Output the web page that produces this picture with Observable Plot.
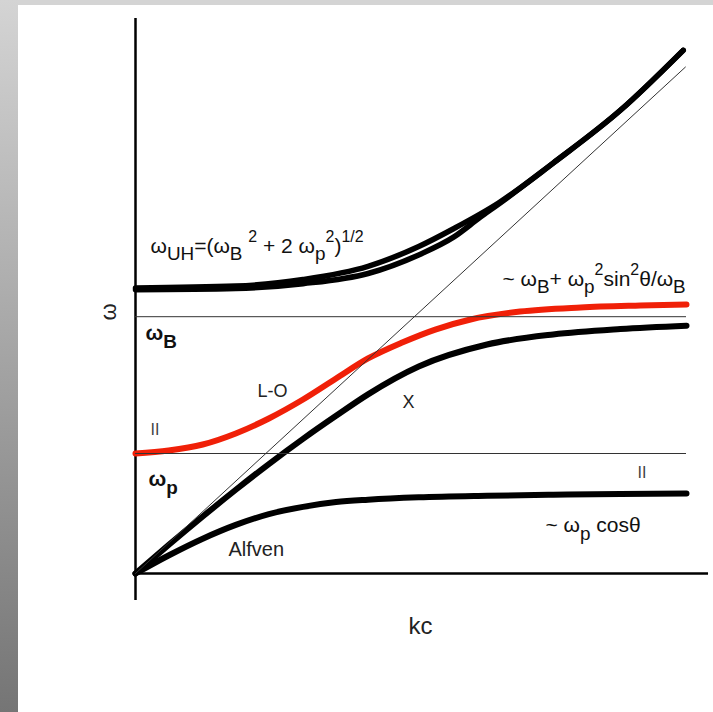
<!DOCTYPE html>
<html><head><meta charset="utf-8">
<script src="https://cdn.jsdelivr.net/npm/d3@7"></script>
<script src="https://cdn.jsdelivr.net/npm/@observablehq/plot@0.6"></script>
<style>
html,body{margin:0;padding:0;background:#fff;overflow:hidden;}
#wrap{position:relative;width:713px;height:712px;}
#chart{position:absolute;left:0;top:0;}
#topbar{position:absolute;left:0;top:0;width:713px;height:5px;background:#d4d4d4;}
#leftbar{position:absolute;left:0;top:0;width:18px;height:712px;background:linear-gradient(#d4d4d4,#757575);}
</style></head><body>
<div id="wrap"><div id="chart"></div><div id="topbar"></div><div id="leftbar"></div></div>
<script>
// ---- data (kc, ω in units of ωp) ----
const diagK = [0, 4.99];
const diagW = [0, 4.22];

const uhUpperK = [0, 0.91, 1.52, 2.11, 2.57, 2.89, 3.29, 3.79, 4.40, 4.97];
const uhUpperW = [2.38, 2.395, 2.45, 2.56, 2.725, 2.875, 3.085, 3.42, 3.86, 4.36];
const uhLowerK = [0, 0.91, 1.52, 2.11, 2.57, 2.89, 3.13, 3.29, 3.79, 4.40, 4.97];
const uhLowerW = [2.365, 2.375, 2.415, 2.50, 2.655, 2.805, 2.97, 3.075, 3.42, 3.86, 4.36];

const loK = [0, 0.30, 0.61, 0.91, 1.21, 1.52, 1.82, 2.11, 2.42, 2.72, 3.04, 3.49, 4.04, 4.58, 5.0];
const loW = [1.0, 1.025, 1.075, 1.167, 1.292, 1.45, 1.625, 1.792, 1.925, 2.033, 2.117, 2.183, 2.217, 2.233, 2.242];

const xK = [0, 0.30, 0.61, 0.91, 1.21, 1.52, 1.82, 2.11, 2.57, 3.19, 3.79, 4.40, 5.0];
const xW = [0, 0.237, 0.475, 0.698, 0.912, 1.122, 1.314, 1.493, 1.725, 1.908, 1.992, 2.037, 2.065];

const alfK = [0, 0.30, 0.61, 0.91, 1.21, 1.52, 1.82, 2.11, 2.57, 3.19, 3.79, 4.40, 5.0];
const alfW = [0, 0.15, 0.29, 0.405, 0.495, 0.555, 0.595, 0.615, 0.635, 0.648, 0.656, 0.662, 0.667];

const omegaB = 2.14;
const omegaP = 1.0;
const lineEnd = 5.0;

const labelText = ["ω_{UH}=(ω_{B} ^{2} + 2 ω_{p}^{2})^{1/2}", "~ ω_{B}+ ω_{p}^{2}sin^{2}θ/ω_{B}", "~ ω_{p} cosθ"];
const labelK = [0.136, 3.33, 3.72];
const labelW = [2.675, 2.40, 0.342];

const boldText = ["ω_{B}", "ω_{p}"];
const boldK = [0.091, 0.118];
const boldW = [1.942, 0.733];

const branchText = ["L-O", "X", "Alfven"];
const branchK = [1.107, 2.423, 0.844];
const branchW = [1.475, 1.383, 0.15];

const parText = ["II", "II"];
const parK = [0.136, 4.555];
const parW = [1.158, 0.792];

const xLabel = "kc";
const yLabel = "ω";

// ---- build ----
const pts = (K, W) => K.map((k, i) => ({k, w: W[i]}));
const lbl = (T, K, W) => T.map((t, i) => ({t, k: K[i], w: W[i]}));
const font = "Liberation Sans, Arial, Helvetica, sans-serif";
const thick = 6;
const curve = "monotone-x";

const plot = Plot.plot({
  width: 713, height: 712,
  marginLeft: 135, marginRight: 27, marginTop: 18, marginBottom: 139,
  x: {domain: [0, 5], axis: null},
  y: {domain: [0, 4.625], axis: null},
  style: {fontFamily: font, background: "white"},
  marks: [
    Plot.ruleX([0], {y1: -0.225, y2: 4.625, strokeWidth: 2.5, stroke: "#000"}),
    Plot.ruleY([0], {x1: 0, x2: 5.2, strokeWidth: 2.5, stroke: "#000"}),
    Plot.line(pts(alfK, alfW), {x: "k", y: "w", stroke: "#000", strokeWidth: thick, curve, strokeLinecap: "round"}),
    Plot.line(pts(xK, xW), {x: "k", y: "w", stroke: "#000", strokeWidth: thick, curve, strokeLinecap: "round"}),
    Plot.line(pts(loK, loW), {x: "k", y: "w", stroke: "#f02008", strokeWidth: thick, curve, strokeLinecap: "round"}),
    Plot.line(pts(uhLowerK, uhLowerW), {x: "k", y: "w", stroke: "#000", strokeWidth: 5.5, curve, strokeLinecap: "round"}),
    Plot.line(pts(uhUpperK, uhUpperW), {x: "k", y: "w", stroke: "#000", strokeWidth: 5.5, curve, strokeLinecap: "round"}),
    Plot.ruleY([omegaB, omegaP], {x1: 0, x2: lineEnd, strokeWidth: 1, stroke: "#333"}),
    Plot.line(pts(diagK, diagW), {x: "k", y: "w", stroke: "#333", strokeWidth: 1}),
    Plot.text(lbl(labelText, labelK, labelW), {x: "k", y: "w", text: "t", textAnchor: "start", lineAnchor: "bottom", fontSize: 21, fill: "#111"}),
    Plot.text(lbl(boldText, boldK, boldW), {x: "k", y: "w", text: "t", textAnchor: "start", lineAnchor: "bottom", fontSize: 21, fontWeight: "bold", fill: "#111"}),
    Plot.text(lbl(branchText, branchK, branchW), {x: "k", y: "w", text: "t", textAnchor: "start", lineAnchor: "bottom", fontSize: (d, i) => i === 2 ? 20 : 18, fill: "#222"}),
    Plot.text(lbl(parText, parK, parW), {x: "k", y: "w", text: "t", textAnchor: "start", lineAnchor: "bottom", fontSize: 16, fill: "#444"}),
    Plot.text([{t: xLabel, k: 2.586, w: -0.5}], {x: "k", y: "w", text: "t", textAnchor: "middle", lineAnchor: "bottom", fontSize: 24, fill: "#222"}),
    Plot.text([{t: yLabel, k: -0.245, w: 2.18}], {x: "k", y: "w", text: "t", rotate: -90, textAnchor: "middle", lineAnchor: "middle", fontSize: 22, fill: "#222"})
  ]
});
document.getElementById("chart").appendChild(plot);

// rich text: _{sub} and ^{sup}
const NS = "http://www.w3.org/2000/svg";
plot.querySelectorAll("text").forEach(t => {
  const s = t.textContent;
  if (!/[_^]/.test(s)) return;
  const fs = parseFloat(getComputedStyle(t).fontSize);
  while (t.firstChild) t.removeChild(t.firstChild);
  t.style.whiteSpace = "pre";
  const re = /([_^])\{([^}]*)\}|([^_^]+)/g;
  let m, cur = 0;
  while ((m = re.exec(s))) {
    let txt, off = 0, size = fs;
    if (m[1]) {
      txt = m[2];
      if (m[1] === "_") { off = 0.38 * fs; size = 0.9 * fs; }
      else { off = -0.48 * fs; size = 0.76 * fs; }
    } else txt = m[3];
    const ts = document.createElementNS(NS, "tspan");
    ts.textContent = txt;
    ts.setAttribute("font-size", size);
    if (off - cur !== 0) ts.setAttribute("dy", off - cur);
    cur = off;
    t.appendChild(ts);
  }
});
</script>
</body></html>
